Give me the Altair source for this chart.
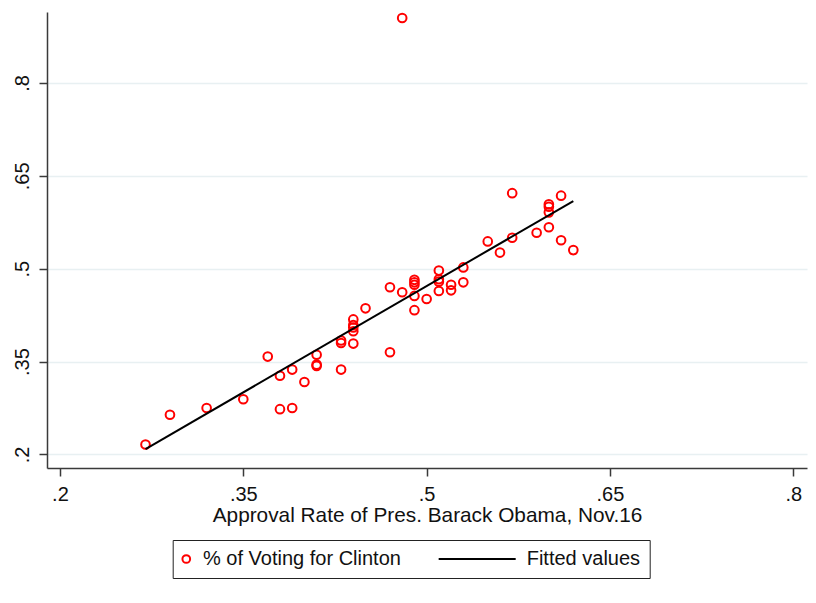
import altair as alt
import pandas as pd

# Approval rate of Obama (x) and share voting for Clinton (y)
approval = [0.27, 0.29, 0.32, 0.35, 0.37, 0.38, 0.38, 0.39, 0.39, 0.40,
            0.41, 0.41, 0.41, 0.43, 0.43, 0.43, 0.44, 0.44, 0.44, 0.44,
            0.44, 0.45, 0.47, 0.47, 0.48, 0.48, 0.49, 0.49, 0.49, 0.49,
            0.49, 0.50, 0.51, 0.51, 0.51, 0.51, 0.52, 0.52, 0.53, 0.53,
            0.55, 0.56, 0.57, 0.57, 0.59, 0.60, 0.60, 0.60, 0.60, 0.61,
            0.61, 0.62]
clinton = [0.216, 0.264, 0.275, 0.289, 0.358, 0.327, 0.273, 0.337, 0.275, 0.317,
           0.361, 0.345, 0.343, 0.384, 0.380, 0.337, 0.418, 0.409, 0.405, 0.399,
           0.379, 0.436, 0.365, 0.470, 0.462, 0.905, 0.482, 0.478, 0.474, 0.456,
           0.433, 0.451, 0.497, 0.483, 0.479, 0.464, 0.474, 0.465, 0.502, 0.478,
           0.544, 0.526, 0.622, 0.550, 0.558, 0.604, 0.600, 0.591, 0.567, 0.618,
           0.546, 0.530]

# Fitted values (end points of the fitted line)
fit_x = [0.27, 0.62]
fit_y = [0.2086, 0.6093]

series_names = ["% of Voting for Clinton", "Fitted values"]
series_colors = ["#ff0000", "#000000"]
tick_values = [0.2, 0.35, 0.5, 0.65, 0.8]

pts = pd.DataFrame({"x": approval, "y": clinton, "series": series_names[0]})
fit = pd.DataFrame({"x": fit_x, "y": fit_y, "series": series_names[1]})
keys = pd.DataFrame({"series": series_names})

FONT = "Liberation Sans"
AXIS_COL = "#3a3a3a"

xscale = alt.Scale(domain=[0.1894, 0.8112], nice=False, zero=False)
yscale = alt.Scale(domain=[0.178, 0.9147], nice=False, zero=False)

label_expr = "substring(format(datum.value, '.2~f'), 1)"

x_axis = alt.Axis(values=tick_values, title="Approval Rate of Pres. Barack Obama, Nov.16",
                  labelExpr=label_expr, grid=False, tickSize=8, labelPadding=8,
                  labelFont=FONT, labelFontSize=20, labelColor="#111111",
                  titleFont=FONT, titleFontSize=20.8, titleFontWeight="normal",
                  titleColor="#111111", titlePadding=1,
                  domainColor=AXIS_COL, domainWidth=1.5, tickColor=AXIS_COL, tickWidth=1.5)
y_axis = alt.Axis(values=tick_values, title=None, labelExpr=label_expr,
                  grid=True, gridColor="#e8f0f2", gridWidth=1.5,
                  tickSize=8, labelPadding=6.5, labelAngle=270,
                  labelAlign="center", labelBaseline="bottom",
                  labelFont=FONT, labelFontSize=20, labelColor="#111111",
                  domainColor=AXIS_COL, domainWidth=1.5, tickColor=AXIS_COL, tickWidth=1.5)

# Legend key glyphs (unit box [-1,1], scaled by the legend symbol size):
# a small ring for the scatter, a long rule (reaching left) for the fitted line.
ring_key = "M-0.275,0A0.675,0.675 0 1,1 -1.625,0A0.675,0.675 0 1,1 -0.275,0Z"
rule_key = "M-13.46,0L0.05,0"

legend = alt.Legend(
    title=None, orient="none", legendX=125.7, legendY=528, direction="horizontal",
    padding=9, strokeColor="#222222", fillColor="white",
    labelFont=FONT, labelFontSize=20, labelColor="#111111", labelLimit=0,
    labelOffset=1.3, columnPadding=32.7, symbolStrokeWidth=2, symbolSize=130,
)

color_scale = alt.Scale(domain=series_names, range=series_colors)

points = alt.Chart(pts).mark_point(shape="circle", filled=False, size=75,
                                   strokeWidth=2, opacity=1).encode(
    x=alt.X("x:Q", scale=xscale, axis=x_axis),
    y=alt.Y("y:Q", scale=yscale, axis=y_axis),
    color=alt.Color("series:N", scale=color_scale, legend=legend),
)

line = alt.Chart(fit).mark_line(strokeWidth=2).encode(
    x=alt.X("x:Q", scale=xscale),
    y=alt.Y("y:Q", scale=yscale),
    color=alt.Color("series:N", scale=color_scale, legend=legend),
)

key_layer = alt.Chart(keys).transform_filter("false").mark_point(filled=False).encode(
    color=alt.Color("series:N", scale=color_scale, legend=legend),
    shape=alt.Shape("series:N", scale=alt.Scale(domain=series_names,
                                                range=[ring_key, rule_key]),
                    legend=legend),
)

chart = alt.layer(points, line, key_layer).properties(
    width=760, height=456,
    autosize=alt.AutoSizeParams(type="none"),
    padding={"left": 39, "top": 4, "right": 1, "bottom": 127},
    background="white",
).configure_view(stroke=None)

chart.save("out.html", embed_options={"renderer": "svg", "actions": False})
